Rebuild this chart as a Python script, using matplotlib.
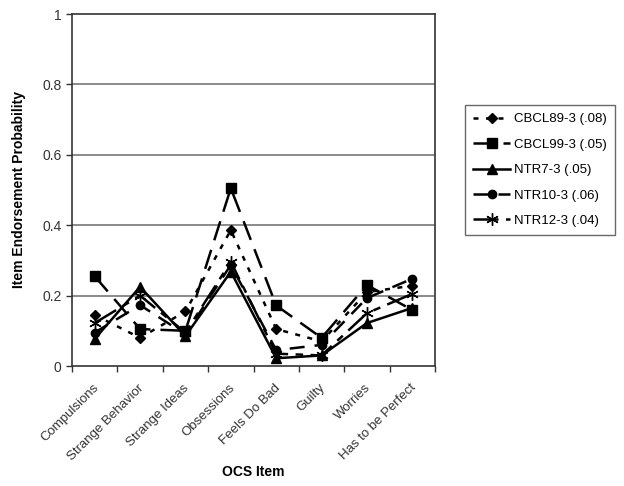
import matplotlib
matplotlib.use("Agg")
import matplotlib.pyplot as plt
import numpy as np

plt.rcParams['font.family'] = ['Liberation Sans', 'DejaVu Sans']

categories = ["Compulsions", "Strange Behavior", "Strange Ideas", "Obsessions",
              "Feels Do Bad", "Guilty", "Worries", "Has to be Perfect"]

cbcl89 = [0.145, 0.080, 0.155, 0.386, 0.105, 0.070, 0.210, 0.228]
cbcl99 = [0.255, 0.105, 0.100, 0.505, 0.172, 0.080, 0.230, 0.159]
ntr7   = [0.077, 0.225, 0.085, 0.268, 0.022, 0.030, 0.122, 0.165]
ntr10  = [0.095, 0.173, 0.090, 0.287, 0.045, 0.060, 0.193, 0.248]
ntr12  = [0.122, 0.200, 0.095, 0.296, 0.035, 0.030, 0.150, 0.205]

labels = ["CBCL89-3 (.08)", "CBCL99-3 (.05)", "NTR7-3 (.05)", "NTR10-3 (.06)", "NTR12-3 (.04)"]

fig = plt.figure(figsize=(6.24, 4.86), dpi=100)
ax = fig.add_axes([72/624, 1-366/486, (435-72)/624, (366-14)/486])

x = np.arange(len(categories))
series = [cbcl89, cbcl99, ntr7, ntr10, ntr12]
styles = [
    dict(linestyle=(0, (2, 3)), marker='D', markersize=5),
    dict(linestyle=(0, (8, 4)), marker='s', markersize=6.5),
    dict(linestyle='-', marker='^', markersize=6.5),
    dict(linestyle=(0, (6, 4)), marker='o', markersize=6),
    dict(linestyle=(0, (10, 3, 3, 3)), marker=(6, 2, 0), markersize=9, markeredgewidth=1),
]
handles = []
for vals, st, lab in zip(series, styles, labels):
    h, = ax.plot(x, vals, color='black', linewidth=1.8, label=lab, **st)
    handles.append(h)

ax.set_xlim(-0.5, len(categories) - 0.5)
ax.set_ylim(0, 1)
ax.set_yticks([0, 0.2, 0.4, 0.6, 0.8, 1])
ax.set_yticklabels(["0", "0.2", "0.4", "0.6", "0.8", "1"], fontsize=10, color='#333333')
for yv in [0.2, 0.4, 0.6, 0.8]:
    ax.axhline(yv, color='#777777', linewidth=1.2, zorder=0)

ax.set_xticks(np.arange(len(categories) + 1) - 0.5)
ax.set_xticklabels([])
ax.tick_params(axis='x', direction='out', length=4, width=1, color='#333333')
ax.tick_params(axis='y', direction='out', length=4, width=1, color='#333333')
for i, c in enumerate(categories):
    ax.text(i - 0.05, -0.045, c, rotation=45, ha='right', va='top',
            rotation_mode='anchor', fontsize=9.5, color='#333333',
            transform=ax.transData)

for s in ax.spines.values():
    s.set_color('#333333')
    s.set_linewidth(1.2)

ax.set_ylabel("Item Endorsement Probability", fontsize=10, fontweight='bold', labelpad=12)
fig.text(253/624, 1-472/486, "OCS Item", ha='center', va='center', fontsize=10, fontweight='bold')

leg = fig.legend(handles=handles, labels=labels, loc='center',
                 bbox_to_anchor=(540/624, 1-170/486), fontsize=9.5,
                 frameon=True, fancybox=False, edgecolor='#444444',
                 handlelength=2.8, labelspacing=1.0, borderpad=0.6, handletextpad=0.3,
                 borderaxespad=0)
leg.get_frame().set_linewidth(1.0)

fig.savefig("out.png", dpi=100)
